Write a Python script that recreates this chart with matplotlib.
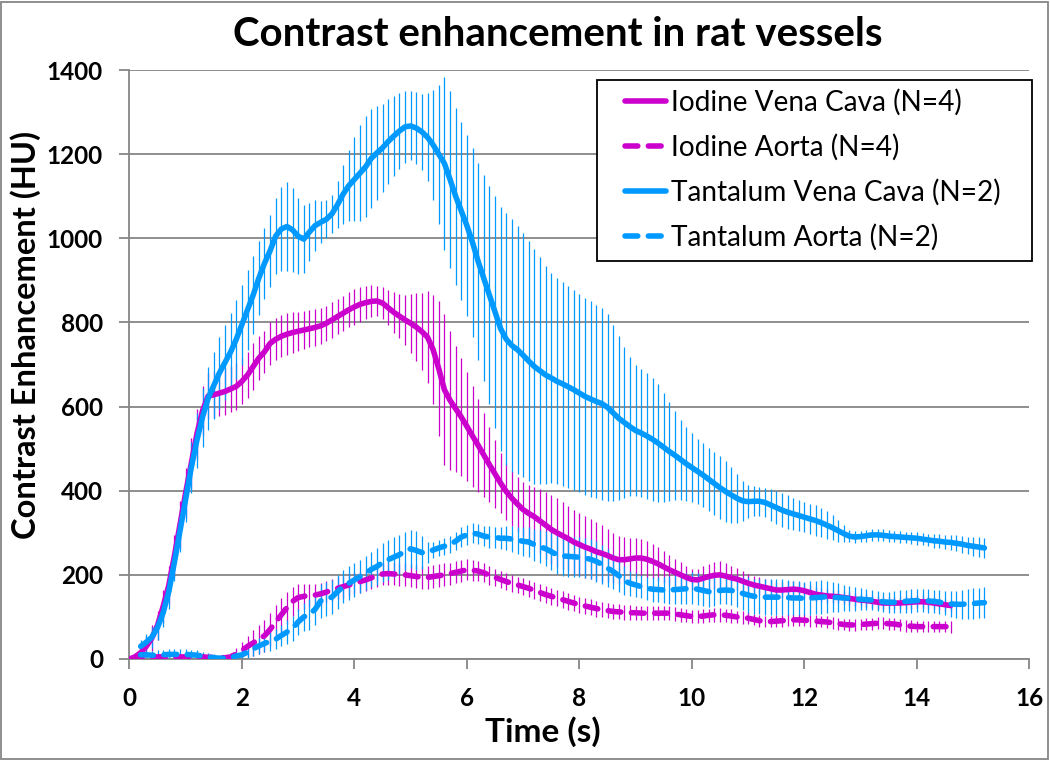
import matplotlib
matplotlib.use("Agg")
import matplotlib.pyplot as plt
import numpy as np
from matplotlib.patches import Rectangle

t_iodine = np.round(np.arange(0.0, 14.65, 0.1), 1)     # 0.0 .. 14.6
t_tantalum = np.round(np.arange(0.2, 15.25, 0.1), 1)   # 0.2 .. 15.2

iodine_vc = [
    0, 5, 15, 30, 50, 80, 125, 175, 245, 320,
    395, 465, 535, 590, 625, 628, 632, 636, 642, 648,
    660, 675, 695, 715, 730, 750, 760, 767, 772, 776,
    779, 782, 785, 788, 792, 798, 806, 814, 822, 830,
    837, 843, 847, 850, 851, 846, 835, 824, 815, 806,
    798, 789, 778, 765, 735, 690, 640, 615, 595, 575,
    553, 530, 508, 485, 462, 440, 418, 398, 382, 368,
    355, 346, 338, 328, 318, 308, 300, 293, 286, 278,
    272, 266, 261, 255, 251, 246, 240, 236, 236, 238,
    240, 240, 237, 232, 226, 219, 212, 206, 200, 194,
    189, 188, 192, 196, 199, 200, 197, 193, 190, 185,
    180, 176, 173, 170, 167, 164, 164, 165, 166, 165,
    162, 158, 154, 152, 150, 149, 148, 146, 144, 142,
    140, 139, 137, 135, 133, 133, 133, 133, 134, 135,
    136, 136, 135, 133, 131, 129, 127,
]
iodine_vc_err = [
    0, 10, 20, 25, 30, 35, 40, 45, 50, 55,
    60, 60, 60, 58, 55, 55, 55, 55, 55, 55,
    55, 55, 55, 52, 50, 50, 50, 50, 50, 48,
    46, 45, 44, 44, 43, 42, 42, 42, 42, 42,
    42, 42, 40, 38, 36, 38, 42, 48, 52, 60,
    70, 80, 92, 110, 130, 160, 180, 165, 150, 140,
    130, 120, 110, 100, 90, 80, 72, 68, 66, 65,
    65, 68, 72, 76, 80, 82, 82, 80, 78, 76,
    75, 74, 72, 70, 67, 64, 60, 57, 54, 50,
    48, 46, 44, 42, 40, 38, 35, 32, 30, 28,
    26, 26, 28, 30, 32, 32, 30, 28, 26, 24,
    22, 22, 21, 20, 20, 20, 20, 20, 19, 18,
    18, 18, 17, 17, 16, 16, 16, 16, 15, 15,
    15, 15, 15, 15, 15, 15, 15, 15, 15, 15,
    15, 15, 15, 15, 15, 14, 14,
]

iodine_ao = [
    0, 2, 3, 4, 5, 5, 5, 5, 5, 5,
    5, 5, 5, 5, 4, 4, 3, 3, 5, 12,
    20, 30, 38, 47, 55, 70, 88, 105, 122, 137,
    146, 149, 151, 152, 155, 159, 164, 168, 172, 176,
    180, 184, 188, 193, 198, 202, 203, 202, 201, 200,
    198, 196, 194, 194, 196, 198, 200, 203, 206, 209,
    212, 211, 209, 205, 199, 194, 189, 184, 180, 176,
    172, 168, 163, 158, 153, 149, 145, 141, 137, 133,
    129, 126, 123, 120, 117, 115, 113, 112, 111, 110,
    110, 109, 109, 109, 109, 109, 109, 107, 105, 103,
    101, 101, 102, 104, 105, 105, 104, 102, 100, 99,
    97, 94, 91, 89, 89, 90, 91, 92, 93, 93,
    92, 91, 90, 89, 88, 86, 84, 82, 81, 81,
    82, 83, 84, 85, 85, 84, 83, 81, 79, 78,
    77, 77, 77, 77, 77, 77, 76,
]
iodine_ao_err = [
    0, 4, 5, 5, 5, 5, 5, 5, 5, 5,
    5, 5, 5, 5, 5, 5, 5, 6, 10, 15,
    20, 25, 30, 34, 38, 40, 40, 40, 38, 35,
    32, 30, 28, 27, 26, 26, 26, 26, 26, 26,
    26, 26, 26, 26, 26, 27, 27, 27, 27, 27,
    27, 27, 27, 27, 27, 27, 27, 26, 26, 26,
    25, 25, 24, 23, 22, 21, 20, 20, 20, 20,
    20, 20, 20, 20, 20, 20, 20, 20, 20, 20,
    19, 19, 19, 19, 18, 18, 18, 18, 18, 18,
    17, 17, 17, 17, 17, 17, 17, 16, 16, 16,
    16, 16, 16, 16, 16, 16, 16, 16, 15, 15,
    14, 14, 14, 14, 14, 14, 14, 14, 14, 14,
    14, 14, 14, 14, 14, 14, 14, 14, 14, 14,
    14, 14, 14, 14, 14, 14, 14, 14, 14, 14,
    14, 14, 14, 14, 14, 14, 14,
]

tantalum_vc = [
    30, 40, 52, 75, 110, 160, 230, 305,
    380, 455, 520, 575, 620, 650, 680, 705, 730, 760,
    795, 830, 865, 905, 940, 970, 1005, 1022, 1028, 1020,
    1005, 998, 1015, 1030, 1038, 1045, 1058, 1080, 1105, 1125,
    1140, 1155, 1170, 1190, 1203, 1215, 1230, 1243, 1255, 1265,
    1267, 1262, 1253, 1240, 1222, 1200, 1178, 1140, 1100, 1065,
    1030, 990, 945, 905, 865, 825, 785, 760, 745, 735,
    722, 708, 695, 685, 675, 668, 660, 654, 647, 640,
    632, 624, 618, 612, 607, 598, 585, 572, 562, 552,
    543, 537, 530, 522, 513, 503, 493, 484, 474, 464,
    455, 446, 437, 427, 417, 407, 398, 390, 382, 376,
    374, 375, 375, 372, 366, 360, 354, 349, 345, 341,
    337, 333, 329, 324, 318, 312, 305, 298, 292, 290,
    291, 293, 295, 295, 294, 292, 291, 290, 289, 288,
    287, 285, 283, 281, 280, 278, 277, 275, 273, 270,
    268, 266, 264,
]
tantalum_vc_err = [
    15, 20, 25, 30, 35, 40, 45, 50,
    55, 60, 65, 70, 75, 80, 85, 90, 92, 94,
    95, 95, 92, 88, 85, 85, 90, 100, 105, 100,
    90, 80, 70, 60, 50, 45, 45, 55, 70, 85,
    100, 115, 120, 118, 112, 105, 100, 95, 90, 85,
    82, 85, 90, 105, 130, 165, 205, 210, 210, 212,
    215, 225, 235, 245, 260, 275, 290, 300, 300, 295,
    290, 285, 280, 270, 260, 250, 245, 242, 240, 238,
    236, 234, 232, 230, 228, 222, 210, 195, 180, 165,
    155, 152, 150, 146, 140, 130, 118, 105, 95, 88,
    82, 78, 76, 75, 75, 75, 72, 66, 58, 48,
    40, 36, 34, 35, 38, 40, 40, 40, 38, 37,
    36, 36, 36, 35, 33, 30, 26, 20, 15, 14,
    14, 14, 14, 14, 14, 14, 14, 14, 14, 14,
    15, 15, 15, 16, 16, 17, 18, 19, 20, 21,
    22, 23, 24,
]

tantalum_ao = [
    10, 10, 9, 9, 10, 11, 11, 11,
    11, 10, 9, 7, 5, 3, 2, 2, 4, 7,
    10, 16, 24, 31, 37, 42, 47, 56, 64, 73,
    88, 100, 106, 118, 138, 143, 147, 160, 172, 180,
    188, 196, 204, 213, 220, 229, 236, 242, 248, 256,
    262, 258, 253, 254, 259, 264, 268, 272, 280, 290,
    295, 299, 297, 292, 290, 289, 287, 287, 285, 282,
    280, 278, 272, 267, 262, 255, 248, 245, 244, 243,
    242, 240, 237, 232, 225, 216, 208, 198, 186, 180,
    176, 172, 168, 166, 165, 164, 164, 165, 166, 167,
    168, 166, 163, 160, 161, 163, 164, 163, 160, 156,
    152, 149, 148, 147, 147, 147, 147, 146, 145, 145,
    144, 145, 146, 147, 148, 147, 146, 145, 144, 143,
    142, 141, 140, 138, 136, 135, 135, 136, 137, 138,
    139, 139, 138, 137, 135, 133, 131, 130, 130, 131,
    132, 133, 134,
]
tantalum_ao_err = [
    8, 10, 10, 12, 12, 12, 12, 12,
    12, 12, 12, 10, 10, 8, 6, 6, 8, 10,
    12, 14, 16, 18, 20, 22, 24, 26, 28, 30,
    32, 34, 36, 38, 40, 40, 40, 40, 40, 40,
    40, 40, 40, 42, 44, 46, 48, 48, 46, 45,
    45, 46, 40, 25, 20, 20, 20, 20, 22, 24,
    24, 24, 24, 24, 25, 25, 26, 28, 30, 32,
    34, 36, 38, 40, 42, 44, 46, 48, 48, 48,
    48, 48, 48, 48, 47, 45, 42, 38, 34, 30,
    28, 28, 28, 30, 30, 32, 34, 35, 36, 37,
    38, 38, 37, 36, 34, 33, 33, 35, 37, 40,
    42, 42, 42, 42, 42, 42, 42, 41, 40, 40,
    40, 40, 40, 40, 38, 36, 34, 32, 30, 28,
    26, 25, 24, 24, 24, 25, 26, 27, 28, 28,
    28, 28, 28, 28, 28, 29, 30, 32, 34, 35,
    36, 36, 36,
]

labels = ["Iodine Vena Cava (N=4)", "Iodine Aorta (N=4)",
          "Tantalum Vena Cava (N=2)", "Tantalum Aorta (N=2)"]
x_ticks = [0, 2, 4, 6, 8, 10, 12, 14, 16]
y_ticks = [0, 200, 400, 600, 800, 1000, 1200, 1400]

MAGENTA = "#CC00CC"
BLUE = "#0099FF"
GRID = "#868686"

plt.rcParams['font.family'] = ['Lato', 'DejaVu Sans']

fig = plt.figure(figsize=(10.5, 7.6), dpi=100)
ax = fig.add_axes([129.4 / 1050, 1 - 659 / 760, 900 / 1050, 589 / 760])

series = [
    (t_iodine, iodine_vc, iodine_vc_err, MAGENTA, "-"),
    (t_iodine, iodine_ao, iodine_ao_err, MAGENTA, "--"),
    (t_tantalum, tantalum_vc, tantalum_vc_err, BLUE, "-"),
    (t_tantalum, tantalum_ao, tantalum_ao_err, BLUE, "--"),
]

handles = []
for i, (t, y, e, c, ls) in enumerate(series):
    ax.errorbar(t, y, yerr=e, fmt="none", ecolor=c, elinewidth=0.9,
                capsize=0, zorder=2 + i * 0.1)
for i, (t, y, e, c, ls) in enumerate(series):
    if ls == "-":
        ln, = ax.plot(t, y, color=c, lw=4, solid_capstyle="round",
                      solid_joinstyle="round", zorder=3 + i * 0.1)
    else:
        ln, = ax.plot(t, y, color=c, lw=4, dashes=(2.3, 1.9),
                      dash_capstyle="round", zorder=3 + i * 0.1)
    handles.append(ln)

ax.set_xlim(0, 16)
ax.set_ylim(0, 1400)
ax.set_xticks(x_ticks)
ax.set_yticks(y_ticks)
ax.yaxis.grid(True, color=GRID, lw=1.3)
ax.set_axisbelow(True)
for s in ["top", "right"]:
    ax.spines[s].set_visible(False)
for s in ["left", "bottom"]:
    ax.spines[s].set_color(GRID)
    ax.spines[s].set_linewidth(1.3)
ax.tick_params(axis="both", colors=GRID, width=1.3, length=7)
ax.tick_params(axis="y", pad=12)
ax.tick_params(axis="x", pad=13)
for lab in ax.get_xticklabels() + ax.get_yticklabels():
    lab.set_color("black")
    lab.set_fontsize(17.5)
    lab.set_fontweight("bold")

fig.text(558 / 1050, 1 - 35 / 760, "Contrast enhancement in rat vessels",
         ha="center", va="center", fontsize=29, fontweight="bold")
fig.text(26 / 1050, 1 - 335 / 760, "Contrast Enhancement (HU)",
         ha="center", va="center", rotation=90, fontsize=23.5, fontweight="bold")
fig.text(543 / 1050, 1 - 732 / 760, "Time (s)",
         ha="center", va="center", fontsize=24, fontweight="bold")

# legend entries without frame, frame drawn as its own box
leg = fig.legend(handles, labels, loc="upper left",
                 bbox_to_anchor=(625 / 1050, 1 - 89 / 760),
                 fontsize=20.2, frameon=False,
                 handlelength=1.45, handletextpad=0.2, labelspacing=0.64,
                 borderpad=0, borderaxespad=0)
fig.patches.append(Rectangle((597 / 1050, 1 - 261 / 760), 435 / 1050, 181 / 760,
                             transform=fig.transFigure, fill=True,
                             facecolor="white", edgecolor="black", lw=1.3,
                             zorder=4))

fig.patches.append(Rectangle((0.001, 0.001), 0.997, 0.997, transform=fig.transFigure,
                             fill=False, edgecolor=GRID, lw=1.3))

fig.savefig("out.png", dpi=100)
